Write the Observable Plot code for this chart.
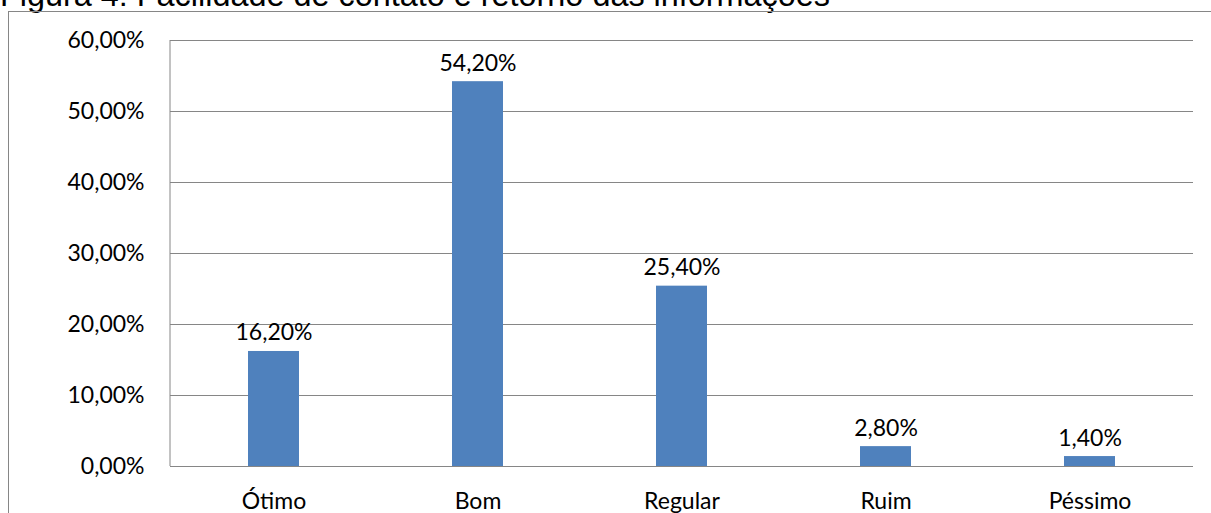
<!DOCTYPE html>
<html>
<head>
<meta charset="utf-8">
<script src="https://cdn.jsdelivr.net/npm/d3@7"></script>
<script src="https://cdn.jsdelivr.net/npm/@observablehq/plot@0.6"></script>
<style>
  html, body { margin: 0; padding: 0; background: #fff; overflow: hidden; }
  #wrap { position: relative; width: 1211px; height: 513px; overflow: hidden; }
  #title {
    position: absolute; left: 0; top: -21px;
    font-family: "Liberation Sans", Arial, sans-serif; font-size: 32.4px; line-height: 32px;
    color: #000; white-space: nowrap;
  }
  #box {
    position: absolute; left: 8px; top: 11px; width: 1400px; height: 700px;
    border: 1px solid #868686; box-sizing: border-box;
  }
  #chart { position: absolute; left: 0; top: 0; }
</style>
</head>
<body>
<div id="wrap">
  <div id="title">Figura 4: Facilidade de contato e retorno das informações</div>
  <div id="box"></div>
  <div id="chart"></div>
</div>
<script>
// Avaliação da facilidade de contato e retorno das informações
const categories = ["Ótimo", "Bom", "Regular", "Ruim", "Péssimo"];
const shares = [0.162, 0.542, 0.254, 0.028, 0.014];
const yTicks = [0, 0.1, 0.2, 0.3, 0.4, 0.5, 0.6];

const rows = categories.map((c, i) => ({ category: c, share: shares[i] }));
const pct = v => (v * 100).toFixed(2).replace(".", ",") + "%";

const grey = "#868686";

// vertical axis line along the left edge of the plotting area
const leftLine = (index, scales, values, dim) => {
  const line = document.createElementNS("http://www.w3.org/2000/svg", "line");
  line.setAttribute("x1", dim.marginLeft);
  line.setAttribute("x2", dim.marginLeft);
  line.setAttribute("y1", dim.marginTop);
  line.setAttribute("y2", dim.height - dim.marginBottom);
  line.setAttribute("stroke", grey);
  return line;
};

const chart = Plot.plot({
  width: 1211,
  height: 513,
  marginLeft: 170,
  marginRight: 18,
  marginTop: 40,
  marginBottom: 47,
  style: { fontFamily: "Lato, sans-serif", fontSize: "23px", color: "#000", background: "transparent" },
  x: { domain: categories, paddingInner: 0.75, paddingOuter: 0.375, label: null },
  y: { domain: [0, 0.6], label: null },
  marks: [
    Plot.ruleY(yTicks, { stroke: grey, strokeWidth: 1 }),
    leftLine,
    Plot.barY(rows, { x: "category", y: "share", fill: "#4f81bd" }),
    Plot.text(rows, {
      x: "category", y: "share", text: d => pct(d.share),
      lineAnchor: "bottom", dy: -11, fill: "#000", fontSize: 23
    }),
    Plot.axisY(yTicks, { tickSize: 0, tickPadding: 26, tickFormat: pct, fontSize: 23, fill: "#000" }),
    Plot.axisX({ tickSize: 0, tickPadding: 26, fontSize: 23, fill: "#000" })
  ]
});
document.getElementById("chart").appendChild(chart);
</script>
</body>
</html>
